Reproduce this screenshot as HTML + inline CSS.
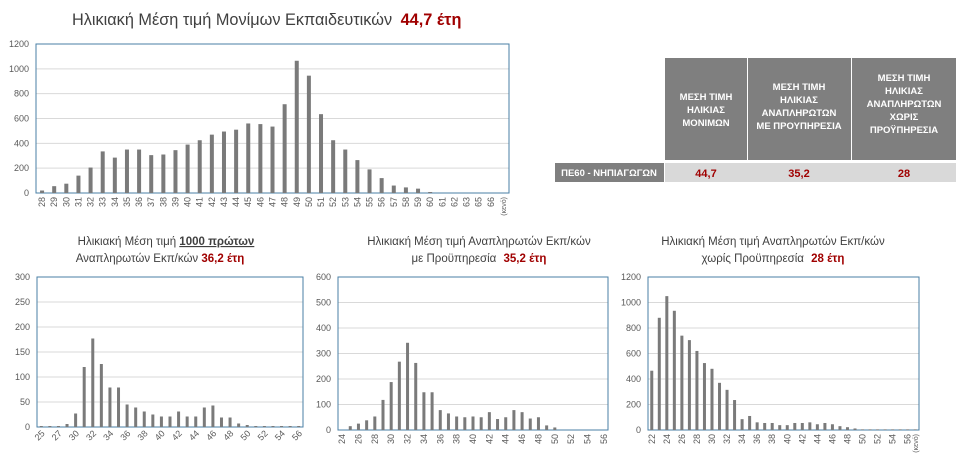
<!DOCTYPE html>
<html><head><meta charset="utf-8"><style>
body{margin:0;background:#fff;width:964px;height:459px;overflow:hidden;font-family:"Liberation Sans",sans-serif}
svg{position:absolute;left:0;top:0}
.t{font-size:9px;fill:#595959}
.ttl{font-size:11.5px;fill:#404040}
.red{fill:#a00000;font-weight:bold}
.hd{font-size:9.5px;fill:#fff;font-weight:bold;text-anchor:middle}
</style></head><body>
<svg width="964" height="459" xmlns="http://www.w3.org/2000/svg">
<text x="72" y="25" style="font-size:16.3px;fill:#404040">Ηλικιακή Μέση τιμή Μονίμων Εκπαιδευτικών <tspan dx="4" class="red" style="font-size:16.3px">44,7 έτη</tspan></text>

<text class="ttl" x="166" y="245" text-anchor="middle">Ηλικιακή Μέση τιμή <tspan font-weight="bold" text-decoration="underline">1000 πρώτων</tspan></text>
<text class="ttl" x="160" y="262" text-anchor="middle">Αναπληρωτών Εκπ/κών <tspan class="red">36,2 έτη</tspan></text>
<text class="ttl" x="479" y="245" text-anchor="middle">Ηλικιακή Μέση τιμή Αναπληρωτών Εκπ/κών</text>
<text class="ttl" x="479" y="262" text-anchor="middle">με Προϋπηρεσία <tspan dx="4" class="red">35,2 έτη</tspan></text>
<text class="ttl" x="773" y="245" text-anchor="middle">Ηλικιακή Μέση τιμή Αναπληρωτών Εκπ/κών</text>
<text class="ttl" x="773" y="262" text-anchor="middle">χωρίς Προϋπηρεσία <tspan dx="4" class="red">28 έτη</tspan></text>

<!-- table -->
<rect x="665" y="58" width="82" height="102" fill="#7f7f7f"/>
<rect x="748" y="58" width="103" height="102" fill="#7f7f7f"/>
<rect x="852" y="58" width="104" height="102" fill="#7f7f7f"/>
<text class="hd" x="706" y="100">ΜΕΣΗ ΤΙΜΗ</text><text class="hd" x="706" y="113">ΗΛΙΚΙΑΣ</text><text class="hd" x="706" y="126">ΜΟΝΙΜΩΝ</text>
<text class="hd" x="799" y="90">ΜΕΣΗ ΤΙΜΗ</text><text class="hd" x="799" y="103">ΗΛΙΚΙΑΣ</text><text class="hd" x="799" y="116">ΑΝΑΠΛΗΡΩΤΩΝ</text><text class="hd" x="799" y="129">ΜΕ ΠΡΟΥΠΗΡΕΣΙΑ</text>
<text class="hd" x="904" y="81">ΜΕΣΗ ΤΙΜΗ</text><text class="hd" x="904" y="94">ΗΛΙΚΙΑΣ</text><text class="hd" x="904" y="107">ΑΝΑΠΛΗΡΩΤΩΝ</text><text class="hd" x="904" y="120">ΧΩΡΙΣ</text><text class="hd" x="904" y="133">ΠΡΟΫΠΗΡΕΣΙΑ</text>
<rect x="555" y="163" width="109" height="19" fill="#7f7f7f"/>
<rect x="665" y="163" width="291" height="19" fill="#d9d9d9"/>
<text class="hd" x="609" y="176">ΠΕ60 - ΝΗΠΙΑΓΩΓΩΝ</text>
<text x="706" y="177" text-anchor="middle" class="red" style="font-size:11px">44,7</text>
<text x="799" y="177" text-anchor="middle" class="red" style="font-size:11px">35,2</text>
<text x="904" y="177" text-anchor="middle" class="red" style="font-size:11px">28</text>

<g id="c1"></g><g id="c2"></g><g id="c3"></g><g id="c4"></g>

<g id="y1" class="t" text-anchor="end"><text>0</text><text>200</text><text>400</text><text>600</text><text>800</text><text>1000</text><text>1200</text></g>
<g id="y2" class="t" text-anchor="end"><text>0</text><text>50</text><text>100</text><text>150</text><text>200</text><text>250</text><text>300</text></g>
<g id="y3" class="t" text-anchor="end"><text>0</text><text>100</text><text>200</text><text>300</text><text>400</text><text>500</text><text>600</text></g>
<g id="y4" class="t" text-anchor="end"><text>0</text><text>200</text><text>400</text><text>600</text><text>800</text><text>1000</text><text>1200</text></g>

<g id="x1" class="t" text-anchor="end"><text>28</text><text>29</text><text>30</text><text>31</text><text>32</text><text>33</text><text>34</text><text>35</text><text>36</text><text>37</text><text>38</text><text>39</text><text>40</text><text>41</text><text>42</text><text>43</text><text>44</text><text>45</text><text>46</text><text>47</text><text>48</text><text>49</text><text>50</text><text>51</text><text>52</text><text>53</text><text>54</text><text>55</text><text>56</text><text>57</text><text>58</text><text>59</text><text>60</text><text>61</text><text>62</text><text>63</text><text>65</text><text>66</text><text style="font-size:7px">(κενό)</text></g>
<g id="x2" class="t" text-anchor="end"><text>25</text><text>27</text><text>30</text><text>32</text><text>34</text><text>36</text><text>38</text><text>40</text><text>42</text><text>44</text><text>46</text><text>48</text><text>50</text><text>52</text><text>54</text><text>56</text></g>
<g id="x3" class="t" text-anchor="end"><text>24</text><text>26</text><text>28</text><text>30</text><text>32</text><text>34</text><text>36</text><text>38</text><text>40</text><text>42</text><text>44</text><text>46</text><text>48</text><text>50</text><text>52</text><text>54</text><text>56</text></g>
<g id="x4" class="t" text-anchor="end"><text>22</text><text>24</text><text>26</text><text>28</text><text>30</text><text>32</text><text>34</text><text>36</text><text>38</text><text>40</text><text>42</text><text>44</text><text>46</text><text>48</text><text>50</text><text>52</text><text>54</text><text>56</text><text style="font-size:7px">(κενό)</text></g>
</svg>
<script>
const NS="http://www.w3.org/2000/svg";
function el(p,n,a){const e=document.createElementNS(NS,n);for(const k in a)e.setAttribute(k,a[k]);p.appendChild(e);return e;}
function chart(id,L,R,T,B,max,steps,vals,bw,yid,xid,labIdx,rot){
 const g=document.getElementById(id);
 for(let i=1;i<=steps;i++){const y=B-(B-T)*i/steps;el(g,'line',{x1:L,x2:R,y1:y,y2:y,stroke:'#d9d9d9','stroke-width':1});}
 el(g,'rect',{x:L,y:T,width:R-L,height:B-T,fill:'none',stroke:'#4a7fa5','stroke-width':1});
 const cw=(R-L)/vals.length;
 vals.forEach((v,i)=>{const h=(B-T)*v/max;if(h>0)el(g,'rect',{x:L+cw*(i+0.5)-bw/2,y:B-h,width:bw,height:h,fill:'#7a7a7a'});});
 [...document.getElementById(yid).children].forEach((t,i)=>{t.setAttribute('x',L-7);t.setAttribute('y',B-(B-T)*i/steps+3);});
 [...document.getElementById(xid).children].forEach((t,i)=>{const x=L+cw*(labIdx[i]+0.5);
  if(rot==90)t.setAttribute('transform',`translate(${x+3},${B+4}) rotate(-90)`);
  else t.setAttribute('transform',`translate(${x+4},${B+7}) rotate(-45)`);});
}
const v1=[20,55,75,140,205,335,285,350,350,305,310,345,390,425,470,495,510,560,555,535,715,1065,945,635,425,350,265,190,120,60,45,35,8,0,0,0,0,0,0];
chart('c1',36,509,44,193,1200,6,v1,4,'y1','x1',v1.map((_,i)=>i),90);
const v2=[2,2,2,6,27,120,177,126,79,79,45,39,31,25,21,21,31,21,21,39,43,19,19,7,4,2,2,2,2,2,2];
const l2=[];for(let i=0;i<=30;i+=2)l2.push(i);
chart('c2',37,303,277,427,300,6,v2,3,'y2','x2',l2,45);
const v3=[0,15,25,38,53,118,188,268,342,263,148,148,78,65,53,50,53,50,70,43,50,78,70,45,50,18,10,0,0,0,0,0,0];
const l3=[];for(let i=0;i<=32;i+=2)l3.push(i);
chart('c3',338,608,277,430,600,6,v3,3,'y3','x3',l3,90);
const v4=[465,880,1050,935,740,705,620,525,480,370,315,235,85,110,60,55,55,38,38,55,55,60,45,55,45,30,22,12,5,5,5,5,5,5,5,5];
const l4=[];for(let i=0;i<=34;i+=2)l4.push(i);l4.push(35);
chart('c4',648,919,277,430,1200,6,v4,3,'y4','x4',l4,90);
</script>
</body></html>
